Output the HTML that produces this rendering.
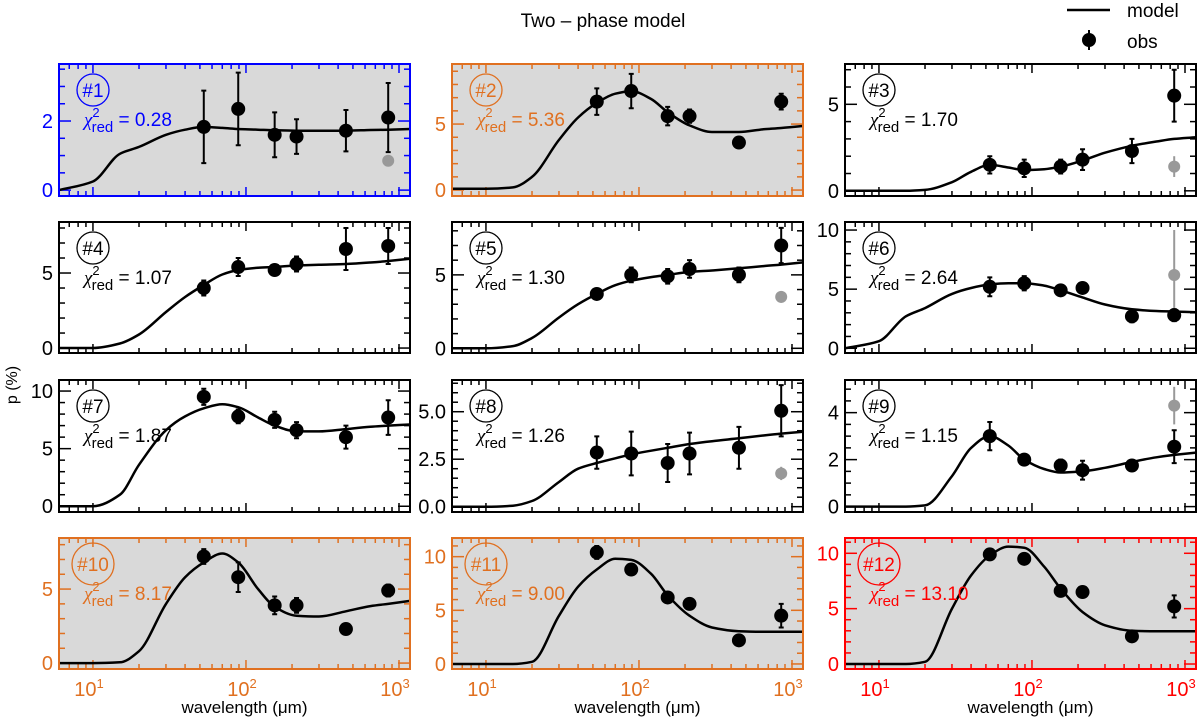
<!DOCTYPE html>
<html><head><meta charset="utf-8"><style>
html,body{margin:0;padding:0;background:#fff;}
svg{display:block;font-family:"Liberation Sans",Arial,sans-serif;}
</style></head><body>
<svg id="fig" width="1200" height="719" viewBox="0 0 1200 719" xmlns="http://www.w3.org/2000/svg">
<text x="603" y="27" font-size="19" text-anchor="middle">Two – phase model</text>
<g>
<line x1="1067" y1="10" x2="1110" y2="10" stroke="#000" stroke-width="2.5"/>
<text x="1127" y="17" font-size="19">model</text>
<line x1="1089" y1="30" x2="1089" y2="50" stroke="#000" stroke-width="2"/>
<circle cx="1089" cy="40" r="7" fill="#000"/>
<text x="1127" y="48" font-size="19">obs</text>
</g>
<text transform="translate(17,385) rotate(-90)" font-size="16" text-anchor="middle">p (%)</text>
</svg>
<script>
// ---- data ----
const waves = [53, 89, 154, 214, 450, 850];
const modelWaves = [6, 10, 15, 20, 30, 40, 53, 70, 89, 120, 154, 214, 300, 450, 650, 850, 1180];
const panelIds = ["#1","#2","#3","#4","#5","#6","#7","#8","#9","#10","#11","#12"];
const chiValues = ["0.28","5.36","1.70","1.07","1.30","2.64","1.87","1.26","1.15","8.17","9.00","13.10"];
const obsP = [
 [1.83,2.35,1.6,1.55,1.72,2.1],
 [6.7,7.5,5.6,5.6,3.6,6.7],
 [1.5,1.3,1.4,1.8,2.3,5.5],
 [4.0,5.4,5.2,5.6,6.6,6.8],
 [3.7,5.0,4.9,5.4,5.0,7.0],
 [5.2,5.5,4.9,5.1,2.7,2.8],
 [9.5,7.8,7.5,6.6,6.0,7.7],
 [2.85,2.8,2.3,2.8,3.1,5.05],
 [3.0,2.0,1.75,1.55,1.75,2.55],
 [7.2,5.8,3.9,3.9,2.3,4.9],
 [10.4,8.8,6.2,5.6,2.2,4.5],
 [9.9,9.5,6.6,6.5,2.5,5.2]
];
const obsErr = [
 [1.05,1.05,0.65,0.5,0.6,1.0],
 [1.0,1.3,0.7,0.5,0.3,0.6],
 [0.5,0.5,0.4,0.6,0.7,1.5],
 [0.5,0.6,0.2,0.5,1.4,1.2],
 [0.2,0.5,0.5,0.6,0.5,1.2],
 [0.8,0.6,0.4,0.3,0.5,0.5],
 [0.7,0.6,0.7,0.7,1.0,1.5],
 [0.85,1.15,1.0,1.1,1.1,1.35],
 [0.6,0.2,0.25,0.4,0.2,0.7],
 [0.5,1.0,0.6,0.5,0.3,0.4],
 [0.6,0.3,0.3,0.3,0.3,1.1],
 [0.3,0.3,0.3,0.3,0.3,1.0]
];
const grayP = [0.85,null,1.4,null,3.5,6.2,null,1.75,4.3,null,null,null];
const grayErr = [0,null,0.6,null,0.4,3.8,null,0.35,0.8,null,null,null];
const modelP = [
 [0,0.25,1.05,1.25,1.6,1.75,1.83,1.8,1.77,1.75,1.73,1.72,1.72,1.72,1.74,1.75,1.77],
 [0.1,0.1,0.2,1.0,3.8,5.5,6.6,7.3,7.5,6.9,5.9,4.9,4.4,4.4,4.6,4.7,4.85],
 [0,0,0,0.05,0.5,1.1,1.5,1.35,1.2,1.25,1.4,1.75,2.2,2.6,2.85,3.0,3.1],
 [0,0,0.3,0.9,2.4,3.4,4.2,4.9,5.2,5.35,5.4,5.5,5.55,5.6,5.7,5.8,5.95],
 [0,0,0.15,0.7,2.1,3.0,3.7,4.3,4.6,4.85,5.0,5.2,5.3,5.45,5.6,5.7,5.85],
 [0,0.6,2.7,3.4,4.6,5.1,5.4,5.5,5.5,5.3,4.9,4.3,3.7,3.3,3.15,3.1,3.05],
 [0,0,1.0,3.6,6.6,7.8,8.5,8.85,8.6,7.7,7.0,6.5,6.5,6.7,6.9,7.0,7.1],
 [0,0,0.05,0.3,1.3,2.0,2.3,2.55,2.75,2.95,3.1,3.3,3.45,3.6,3.75,3.85,3.95],
 [0,0,0,0.05,1.3,2.5,3.0,2.6,2.0,1.6,1.45,1.5,1.65,1.9,2.1,2.2,2.3],
 [0,0,0.05,0.8,4.0,5.8,6.8,7.4,6.8,5.0,3.8,3.2,3.15,3.5,3.85,4.0,4.2],
 [0,0,0,0.2,4.5,7.2,8.8,9.8,9.7,8.4,6.4,4.5,3.4,3.05,3.0,3.0,3.0],
 [0,0,0,0.2,5.0,8.0,9.8,10.6,10.5,8.8,6.8,4.7,3.5,3.0,2.95,2.95,2.95]
];
const yMin = [-0.17,-0.45,-0.3,-0.33,-0.32,-0.4,-0.5,-0.28,-0.23,-0.4,-0.47,-0.45];
const yMax = [3.65,9.55,7.33,8.4,8.6,10.68,10.96,6.67,5.39,8.45,11.74,11.38];
const yMajorTicks = [[0,2],[0,5],[0,5],[0,5],[0,5],[0,5,10],[0,5,10],[0,2.5,5],[0,2,4],[0,5],[0,5,10],[0,5,10]];
const yMajorLabels = [["0","2"],["0","5"],["0","5"],["0","5"],["0","5"],["0","5","10"],["0","5","10"],["0.0","2.5","5.0"],["0","2","4"],["0","5"],["0","5","10"],["0","5","10"]];
const yMinorStep = [0.5,1,1,1,1,1,1,0.5,0.5,1,1,1];
const xDecades = [10,100,1000];
const xDecadeLabels = ["1","2","3"];
const panelColors = ["#0000ff","#e07020","#000","#000","#000","#000","#000","#000","#000","#e07020","#e07020","#ff0000"];
const panelShaded = [true,true,false,false,false,false,false,false,false,true,true,true];

// ---- layout ----
const colLeft = [59,452,845], rowTop = [64,222,380,538], rowBot = [196,353,512,669];
const PW = 351;
const XMIN = Math.log10(6), XMAX = Math.log10(1180);
const NS = "http://www.w3.org/2000/svg";
const svg = document.getElementById('fig');
function mk(tag, attrs, parent){const e=document.createElementNS(NS,tag);for(const k in attrs)e.setAttribute(k,attrs[k]);(parent||svg).appendChild(e);return e;}

// monotone cubic (Fritsch-Carlson) path through points sorted by x
function monoPath(pts){
  const n=pts.length, dx=[], s=[], m=[];
  for(let i=0;i<n-1;i++){dx[i]=pts[i+1][0]-pts[i][0]; s[i]=(pts[i+1][1]-pts[i][1])/dx[i];}
  m[0]=s[0]; m[n-1]=s[n-2];
  for(let i=1;i<n-1;i++){
    if(s[i-1]*s[i]<=0) m[i]=0;
    else { const w1=2*dx[i]+dx[i-1], w2=dx[i]+2*dx[i-1]; m[i]=(w1+w2)/(w1/s[i-1]+w2/s[i]); }
  }
  let d="M"+pts[0][0].toFixed(1)+","+pts[0][1].toFixed(1);
  for(let i=0;i<n-1;i++){
    const h=dx[i]/3;
    d+=" C"+(pts[i][0]+h).toFixed(1)+","+(pts[i][1]+m[i]*h).toFixed(1)+" "+(pts[i+1][0]-h).toFixed(1)+","+(pts[i+1][1]-m[i+1]*h).toFixed(1)+" "+pts[i+1][0].toFixed(1)+","+pts[i+1][1].toFixed(1);
  }
  return d;
}

for(let i=0;i<12;i++){
  const r=Math.floor(i/3), c=i%3;
  const L=colLeft[c], T=rowTop[r], B=rowBot[r], R=L+PW;
  const col=panelColors[i];
  const xs=w=>L+(Math.log10(w)-XMIN)/(XMAX-XMIN)*PW;
  const ys=v=>B-(v-yMin[i])/(yMax[i]-yMin[i])*(B-T);
  const g=mk('g',{});
  
  
  const bg=mk('rect',{x:L,y:T,width:PW,height:B-T,fill:panelShaded[i]?'#d9d9d9':'#fff'},g);
  
  
  for(let dec=1;dec<=1000;dec*=10){
    for(let m=1;m<10;m++){
      const w=dec*m; if(w<6||w>1180) continue;
      const x=xs(w), len=(m===1)?9:5;
      const t1=mk('line',{x1:x,y1:B,x2:x,y2:B-len,stroke:col,'stroke-width':1.5},g);
      
      
      const t2=mk('line',{x1:x,y1:T,x2:x,y2:T+len,stroke:col,'stroke-width':1.5},g);
      
      
    }
  }
  for(let v=Math.ceil(yMin[i]/yMinorStep[i])*yMinorStep[i]; v<=yMax[i]; v+=yMinorStep[i]){
    const y=ys(v);
    const isMajor=yMajorTicks[i].some(mm=>Math.abs(mm-v)<1e-6);
    const len=isMajor?12:6;
    const a=mk('line',{x1:L,y1:y,x2:L+len,y2:y,stroke:col,'stroke-width':1.5},g);
    
    
    const b=mk('line',{x1:R,y1:y,x2:R-len,y2:y,stroke:col,'stroke-width':1.5},g);
    
    
  }
  yMajorTicks[i].forEach((v,k)=>{
    const t=mk('text',{x:L-6,y:ys(v)+7,'font-size':20,'text-anchor':'end',fill:col},g);
    
    
    t.textContent=yMajorLabels[i][k];
  });
  const pts=modelWaves.map((w,k)=>[xs(w),ys(modelP[i][k])]);
  const mp=mk('path',{d:monoPath(pts),fill:'none',stroke:'#000','stroke-width':2.5},g);
  
  
  if(grayP[i]!==null){
    const x=xs(850),y=ys(grayP[i]);
    if(grayErr[i]>0){
      const e=mk('line',{x1:x,y1:ys(grayP[i]+grayErr[i]),x2:x,y2:ys(grayP[i]-grayErr[i]),stroke:'#999','stroke-width':2},g);
      
      
    }
    const gc=mk('circle',{cx:x,cy:y,r:6,fill:'#999'},g);
    
    
  }
  waves.forEach((w,k)=>{
    const x=xs(w),v=obsP[i][k],e=obsErr[i][k];
    const y1=ys(v+e),y2=ys(v-e);
    const eb=mk('path',{d:`M${x},${y1}V${y2}M${x-2.5},${y1}h5M${x-2.5},${y2}h5`,stroke:'#000','stroke-width':2,fill:'none'},g);
    
    
    const pt=mk('circle',{cx:x,cy:ys(v),r:7,fill:'#000'},g);
    
    
  });
  const fr=mk('rect',{x:L,y:T,width:PW,height:B-T,fill:'none',stroke:col,'stroke-width':2},g);
  
  
  const big=i>=9;
  const cr=mk('circle',{cx:L+34,cy:T+26,r:big?21:16,fill:'none',stroke:col,'stroke-width':1.3},g);
  
  
  const idt=mk('text',{x:L+34,y:T+33,'font-size':19,'text-anchor':'middle',fill:col},g);
  
  
  idt.textContent=panelIds[i];
  const ct=mk('text',{x:L+25,y:T+62,'font-size':19,fill:col},g);
  
  
  const s1=mk('tspan',{'font-family':'"Liberation Serif",serif','font-style':'italic'},ct); s1.textContent='χ';
  const s2=mk('tspan',{'font-size':13,dx:0,dy:-9},ct); s2.textContent='2';
  const s3=mk('tspan',{'font-size':15,dx:-8,dy:15},ct); s3.textContent='red';
  const s4=mk('tspan',{dy:-6},ct); s4.textContent=' = '+chiValues[i];
  if(r===3){
    xDecades.forEach((w,k)=>{
      const t=mk('text',{x:xs(w)-4,y:B+27,'font-size':20,'text-anchor':'middle',fill:col},g);
      
      
      t.textContent='10';
      const sp=mk('tspan',{'font-size':13,dy:-8},t); sp.textContent=xDecadeLabels[k];
    });
    const xt=mk('text',{x:L+PW/2+10,y:713,'font-size':17,'text-anchor':'middle',fill:'#000'},g);
    
    
    xt.textContent='wavelength (μm)';
  }
}
</script>
</body></html>
